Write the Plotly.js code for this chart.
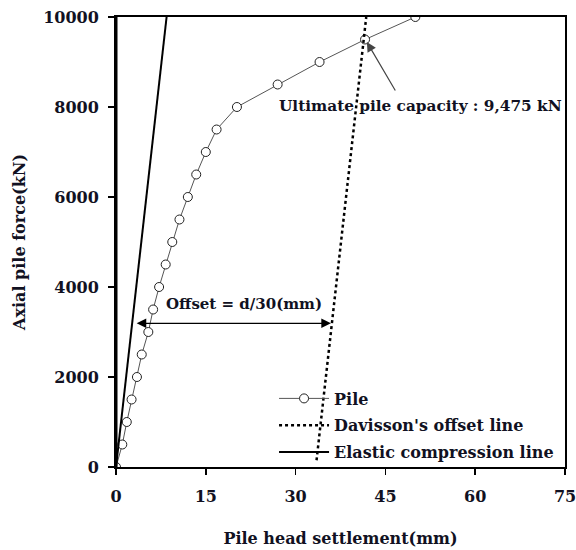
<!DOCTYPE html>
<html><head><meta charset="utf-8">
<script src="https://cdn.plot.ly/plotly-3.0.1.min.js"></script>
<style>body{margin:0;background:#fff}#c{width:576px;height:550px}</style>
</head><body><div id="c"></div>
<script>
// Pile load test data
const pileSettlement = [0,1.05,1.8,2.6,3.5,4.3,5.4,6.2,7.2,8.3,9.4,10.6,12.0,13.4,15.0,16.8,20.2,27,34,41.6,50];
const pileLoad = [0,500,1000,1500,2000,2500,3000,3500,4000,4500,5000,5500,6000,6500,7000,7500,8000,8500,9000,9500,10000];
const davissonSettlement = [33.5,41.8];
const davissonLoad = [150,10000];
const elasticSettlement = [0,8.45];
const elasticLoad = [0,10000];
const xTicks = [0,15,30,45,60,75];
const yTicks = [0,2000,4000,6000,8000,10000];
const yTickText = ['0','2000','4000','6000','8000','10000'];

const F = '"DejaVu Serif", "Liberation Serif", serif';
const txt = '#111122';

const traces = [
  {x: pileSettlement, y: pileLoad, name: 'Pile', mode: 'lines+markers', legendgroup:'a',
   line:{color:'#555', width:1},
   marker:{symbol:'circle', size:9, color:'#fff', line:{color:'#222', width:1}}},
  {x: davissonSettlement, y: davissonLoad, name: "Davisson's offset line", mode:'lines', legendgroup:'b',
   line:{color:'#000', width:2.5, dash:'dot'}},
  {x: elasticSettlement, y: elasticLoad, name: 'Elastic compression line', mode:'lines', legendgroup:'c',
   line:{color:'#000', width:2}}
];

const layout = {
  width:576, height:550,
  margin:{l:116, r:11, t:17, b:83},
  paper_bgcolor:'#fff', plot_bgcolor:'#fff',
  showlegend:true,
  legend:{x:0.352, y:0.19, xanchor:'left', yanchor:'top', bgcolor:'rgba(0,0,0,0)',
    font:{family:F, size:16, color:txt, weight:'bold'}, itemwidth:50, tracegroupgap:3, traceorder:'grouped'},
  xaxis:{range:[0,75], tickvals:xTicks, ticks:'outside', ticklen:6, tickwidth:1.5, tickcolor:'#000',
    showline:true, linewidth:2, linecolor:'#000', mirror:true, showgrid:false, zeroline:false,
    ticklabelstandoff:8, ticklabeloverflow:'allow',
    tickfont:{family:F, size:16, color:txt, weight:'bold'},
    title:{text:'Pile head settlement(mm)', font:{family:F, size:16, color:txt, weight:'bold'}, standoff:28}},
  yaxis:{range:[0,10000], tickvals:yTicks, ticktext:yTickText, ticks:'outside', ticklen:6, tickwidth:1.5, tickcolor:'#000',
    showline:true, linewidth:2, linecolor:'#000', mirror:true, showgrid:false, zeroline:false,
    ticklabelstandoff:6, ticklabeloverflow:'allow',
    tickfont:{family:F, size:16, color:txt, weight:'bold'},
    title:{text:'Axial pile force(kN)', font:{family:F, size:16, color:txt, weight:'bold'}, standoff:14}},
  shapes:[{type:'line', xref:'paper', yref:'paper', x0:0, x1:0, y0:0, y1:1, line:{color:'#000', width:3}}],
  annotations:[
    {x:35.9, y:3193, ax:3.2, ay:3193, axref:'x', ayref:'y', xref:'x', yref:'y', text:'',
     showarrow:true, arrowside:'end+start', arrowhead:2, arrowsize:1.6, arrowwidth:1.2, arrowcolor:'#000'},
    {x:21.4, y:3622, xref:'x', yref:'y', text:'Offset = d/30(mm)', showarrow:false,
     font:{family:F, size:15, color:txt, weight:'bold'}},
    {x:41.9, y:9444, ax:46.8, ay:8333, axref:'x', ayref:'y', xref:'x', yref:'y', text:'',
     showarrow:true, arrowhead:2, arrowsize:1.6, arrowwidth:1.2, arrowcolor:'#444'},
    {x:50.9, y:8022, xref:'x', yref:'y', text:'Ultimate pile capacity : 9,475 kN', showarrow:false,
     font:{family:F, size:15.3, color:txt, weight:'bold'}}
  ]
};
Plotly.newPlot('c', traces, layout, {displayModeBar:false, staticPlot:true});
</script></body></html>
